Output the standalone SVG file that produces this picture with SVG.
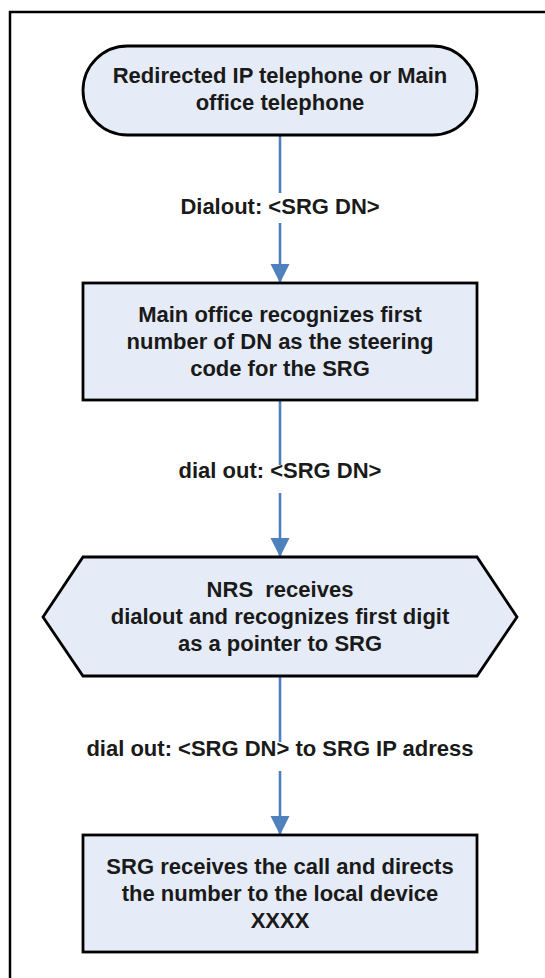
<svg xmlns="http://www.w3.org/2000/svg" width="545" height="978" viewBox="0 0 545 978">
<defs>
<style>
.node{fill:#E5ECF7;stroke:#000;stroke-width:2.8;stroke-linejoin:miter}
.t{font-family:"Liberation Sans",Arial,sans-serif;font-weight:bold;font-size:22px;fill:#1a1a1a;text-anchor:middle}
.edge{stroke:#4F81BD;stroke-width:2.6;fill:none}
.frame{stroke:#000;stroke-width:2.5;fill:none}
</style>
<marker id="ah" markerUnits="userSpaceOnUse" markerWidth="20" markerHeight="20" refX="19" refY="9.5" orient="auto">
<path d="M0,0 L19,9.5 L0,19 Z" fill="#4F81BD"/>
</marker>
</defs>
<rect width="545" height="978" fill="#fff"/>
<g id="frame">
<path class="frame" d="M10,978 V12 H545"/>
</g>
<g id="connectors">
<line class="edge" x1="280" y1="135" x2="280" y2="193"/>
<line class="edge" x1="280" y1="223" x2="280" y2="283" marker-end="url(#ah)"/>
<text class="t" x="280" y="214">Dialout: &lt;SRG DN&gt;</text>
<line class="edge" x1="280" y1="400" x2="280" y2="465"/>
<line class="edge" x1="280" y1="493" x2="280" y2="557" marker-end="url(#ah)"/>
<text class="t" x="280" y="478">dial out: &lt;SRG DN&gt;</text>
<line class="edge" x1="280" y1="676" x2="280" y2="742"/>
<line class="edge" x1="280" y1="771" x2="280" y2="835" marker-end="url(#ah)"/>
<text class="t" x="280" y="756">dial out: &lt;SRG DN&gt; to SRG IP adress</text>
</g>
<g id="start">
<rect class="node" x="83" y="46" width="394" height="89" rx="44.5" ry="44.5"/>
<text class="t" x="280" y="83">Redirected IP telephone or Main</text>
<text class="t" x="280" y="110">office telephone</text>
</g>
<g id="main-office">
<rect class="node" x="83" y="283" width="394" height="117"/>
<text class="t" x="280" y="322">Main office recognizes first</text>
<text class="t" x="280" y="349">number of DN as the steering</text>
<text class="t" x="280" y="376">code for the SRG</text>
</g>
<g id="nrs">
<polygon class="node" points="43,617 83,557 477,557 517,617 477,676 83,676"/>
<text class="t" x="280" y="597">NRS&#160; receives</text>
<text class="t" x="280" y="624">dialout and recognizes first digit</text>
<text class="t" x="280" y="651">as a pointer to SRG</text>
</g>
<g id="srg">
<rect class="node" x="83" y="835" width="394" height="117"/>
<text class="t" x="280" y="874">SRG receives the call and directs</text>
<text class="t" x="280" y="901">the number to the local device</text>
<text class="t" x="280" y="928">XXXX</text>
</g>
</svg>
